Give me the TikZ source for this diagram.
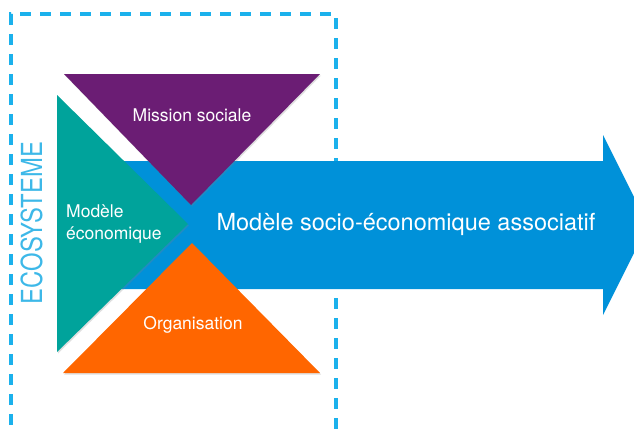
\documentclass[tikz,border=0pt]{standalone}
\usepackage{fontspec}
\setmainfont{TeX Gyre Heros}
\usetikzlibrary{shadows}
\definecolor{ecoblue}{HTML}{1BB1EC}
\definecolor{ecotext}{HTML}{3DB8E8}
\definecolor{arrowblue}{HTML}{0091D9}
\definecolor{mission}{HTML}{6B1D74}
\definecolor{econ}{HTML}{00A39B}
\definecolor{orga}{HTML}{FF6600}
\tikzset{Tri/.style={drop shadow={opacity=.25, shadow xshift=1pt, shadow yshift=-1.5pt}},
         Label/.style={text=white, font=\fontsize{17.5}{22}\selectfont, inner sep=0pt},
         Eco/.style={draw=ecoblue, line width=3.2pt, dash pattern=on 11pt off 9pt}}

\begin{document}
\begin{tikzpicture}[x=1pt, y=-1pt]
  \clip (0,0) rectangle (634,429);
  % ecosysteme frame, open at the bottom
  \draw[Eco] (11,445) -- (11,14) -- (336,14) -- (336,445);
  % big arrow
  \fill[arrowblue] (110,161) -- (603,161) -- (603,135) -- (648,225)
    -- (603,315) -- (603,289) -- (110,289) -- cycle;
  % the three triangles
  \fill[econ, Tri] (57,95) -- (188,224) -- (57,352) -- cycle;
  \fill[mission, Tri] (64,74) -- (320,74) -- (191,205) -- cycle;
  \fill[orga, Tri] (192,243) -- (320,373) -- (63,373) -- cycle;
  % labels
  \node[Label] (mission) at (192,115) {Mission sociale};
  \node[Label, anchor=west, align=left] (econ) at (66,224) {Modèle\\économique};
  \node[Label] (orga) at (193,325) {Organisation};
  \node[Label, font=\fontsize{23.5}{28}\selectfont] (modele) at (406,224)
    {Modèle socio-économique associatif};
  \node[text=ecotext, rotate=90, font=\fontsize{29}{34}\selectfont, inner sep=0pt]
    (eco) at (31.5,223) {\scalebox{0.82}[1]{ECOSYSTEME}};
\end{tikzpicture}
\end{document}
